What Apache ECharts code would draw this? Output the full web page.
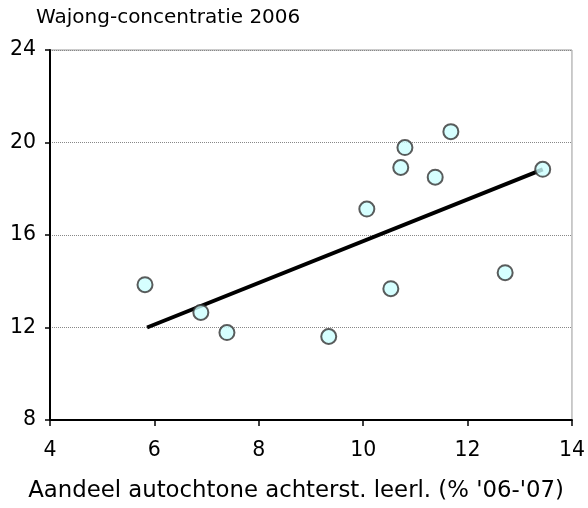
<!DOCTYPE html>
<html>
<head>
<meta charset="utf-8">
<script src="https://cdn.jsdelivr.net/npm/echarts@6/dist/echarts.min.js"></script>
<style>
  html, body { margin: 0; padding: 0; background: #fff; }
  #chart { width: 588px; height: 508px; }
</style>
</head>
<body>
<div id="chart"></div>
<script>
// data
var xVals = [5.82, 6.89, 7.39, 9.34, 10.07, 10.72, 10.80, 11.38, 11.68, 10.53, 12.72, 13.44];
var yVals = [13.85, 12.65, 11.78, 11.61, 17.12, 18.92, 19.78, 18.50, 20.47, 13.68, 14.37, 18.84];
// trend line end points
var trendX = [5.86, 13.44];
var trendY = [12.0, 18.84];

var points = [];
for (var i = 0; i < xVals.length; i++) {
    points.push([xVals[i], yVals[i]]);
}
var trend = [];
for (var j = 0; j < trendX.length; j++) {
    trend.push([trendX[j], trendY[j]]);
}

var font = 'DejaVu Sans';

option = {
    animation: false,
    title: {
        text: 'Wajong-concentratie 2006',
        left: 31,
        top: 3,
        textStyle: { fontFamily: font, fontSize: 20, fontWeight: 'normal', color: '#000' }
    },
    grid: {
        left: 50, right: 16, top: 50, bottom: 86,
        show: true,
        borderColor: '#999',
        borderWidth: 1
    },
    xAxis: {
        type: 'value',
        min: 4, max: 14, interval: 2,
        name: "Aandeel autochtone achterst. leerl. (% '06-'07)",
        nameLocation: 'middle',
        nameGap: 60,
        nameTextStyle: { fontFamily: font, fontSize: 22.8, color: '#000', padding: [0, 30, 0, 0] },
        axisLine: { show: true, lineStyle: { color: '#000', width: 2 } },
        axisTick: { show: true, inside: false, length: 6, lineStyle: { color: '#000', width: 1.5 } },
        axisLabel: { fontFamily: font, fontSize: 20.5, color: '#000', margin: 20 },
        splitLine: { show: false }
    },
    yAxis: {
        type: 'value',
        min: 8, max: 24, interval: 4,
        axisLine: { show: true, lineStyle: { color: '#000', width: 2 } },
        axisTick: { show: true, inside: false, length: 5, lineStyle: { color: '#000', width: 1.5 } },
        axisLabel: { fontFamily: font, fontSize: 20.5, color: '#000', margin: 14 },
        splitLine: { show: true, lineStyle: { color: '#888', width: 1, type: 'dotted' } }
    },
    series: [
        {
            type: 'line',
            data: trend,
            symbol: 'none',
            lineStyle: { color: '#000', width: 4 },
            z: 2
        },
        {
            type: 'scatter',
            data: points,
            symbol: 'circle',
            symbolSize: 15,
            itemStyle: { color: '#ccffff', borderColor: '#333', borderWidth: 2 },
            z: 3
        }
    ]
};

var myChart = echarts.init(document.getElementById('chart'));
myChart.setOption(option);
</script>
</body>
</html>
